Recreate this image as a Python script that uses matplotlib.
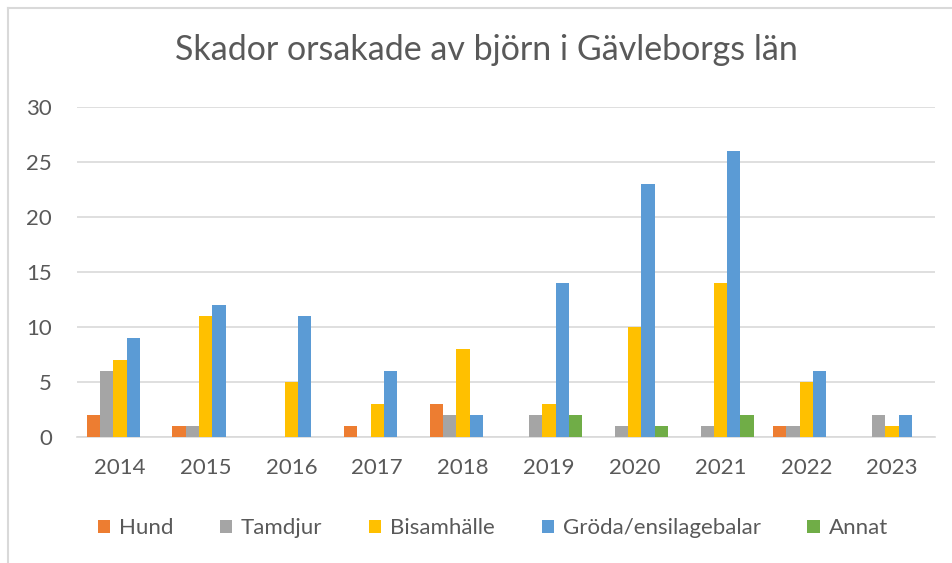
import matplotlib.pyplot as plt
import numpy as np
from matplotlib.lines import Line2D

plt.rcParams["font.family"] = ["Lato", "DejaVu Sans"]

YEARS = ["2014", "2015", "2016", "2017", "2018", "2019", "2020", "2021", "2022", "2023"]
SERIES = ["Hund", "Tamdjur", "Bisamhälle", "Gröda/ensilagebalar", "Annat"]
HUND = [2, 1, 0, 1, 3, 0, 0, 0, 1, 0]
TAMDJUR = [6, 1, 0, 0, 2, 2, 1, 1, 1, 2]
BISAMHALLE = [7, 11, 5, 3, 8, 3, 10, 14, 5, 1]
GRODA = [9, 12, 11, 6, 2, 14, 23, 26, 6, 2]
ANNAT = [0, 0, 0, 0, 0, 2, 1, 2, 0, 0]
COLORS = ["#ed7d31", "#a5a5a5", "#ffc000", "#5b9bd5", "#70ad47"]

TEXT = "#595959"
GRID = "#d9d9d9"

fig = plt.figure(figsize=(9.53, 5.63), dpi=100)
ax = fig.add_axes([0.0808, 0.2238, 0.9003, 0.5862])

x = np.arange(len(YEARS))
width = 0.155
values = [HUND, TAMDJUR, BISAMHALLE, GRODA, ANNAT]
for i, (name, vals, color) in enumerate(zip(SERIES, values, COLORS)):
    offset = (i - 2) * width
    ax.bar(x + offset, vals, width, label=name, color=color, zorder=3)

ax.set_xlim(-0.5, len(YEARS) - 0.5)
ax.set_ylim(0, 30)
ax.set_yticks(range(0, 31, 5))
ax.set_xticks(x)
ax.set_xticklabels(YEARS)
ax.tick_params(axis="both", length=0, labelsize=16, colors=TEXT)
ax.tick_params(axis="x", pad=15)
ax.tick_params(axis="y", pad=18)
ax.grid(axis="y", color=GRID, linewidth=1.2, zorder=0)
for side in ["top", "right", "left"]:
    ax.spines[side].set_visible(False)
ax.spines["bottom"].set_color(GRID)
ax.spines["bottom"].set_linewidth(1.2)

fig.text(0.51, 0.911, "Skador orsakade av björn i Gävleborgs län", ha="center", va="center",
         fontsize=24.5, color=TEXT)

fig.legend(loc="center", bbox_to_anchor=(0.517, 0.062), ncol=5, frameon=False, fontsize=16,
           labelcolor=TEXT, handlelength=0.55, handleheight=0.55, handletextpad=0.4,
           columnspacing=2.1)

# chart-area outline (only top and left edges show in the crop)
fig.lines.append(Line2D([8.5 / 953, 1], [1 - 7.5 / 563] * 2, transform=fig.transFigure,
                        color=GRID, linewidth=1.5))
fig.lines.append(Line2D([8.5 / 953] * 2, [0, 1 - 7.5 / 563], transform=fig.transFigure,
                        color=GRID, linewidth=1.5))

fig.savefig("out.png", facecolor="white")
